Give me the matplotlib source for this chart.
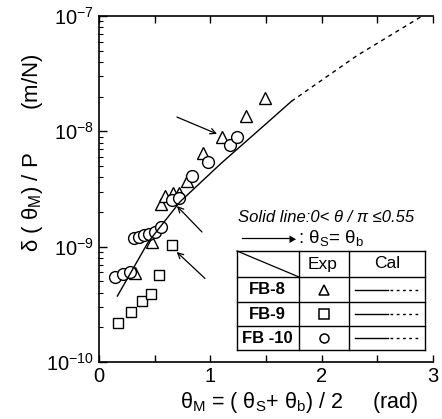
import numpy as np
import matplotlib.pyplot as plt
from matplotlib.lines import Line2D

plt.rcParams['font.family'] = ['Liberation Sans', 'DejaVu Sans']
plt.rcParams['mathtext.fontset'] = 'custom'
plt.rcParams['mathtext.rm'] = 'Liberation Sans'
plt.rcParams['mathtext.it'] = 'Liberation Sans:italic'

# FB-8 (triangles)
x_fb8 = [0.323, 0.473, 0.554, 0.593, 0.668, 0.72, 0.79, 0.932, 1.102, 1.321, 1.491]
y_fb8 = [5.86e-10, 1.09e-9, 2.33e-9, 2.75e-9, 2.90e-9, 2.9e-9, 3.7e-9, 6.44e-9, 8.98e-9, 1.36e-8, 1.93e-8]
# FB-9 (squares)
x_fb9 = [0.168, 0.288, 0.383, 0.467, 0.539, 0.653]
y_fb9 = [2.16e-10, 2.69e-10, 3.37e-10, 3.88e-10, 5.67e-10, 1.03e-9]
# FB-10 (circles)
x_fb10 = [0.144, 0.22, 0.275, 0.315, 0.36, 0.40, 0.445, 0.50, 0.56, 0.653, 0.72, 0.836, 0.98, 1.177, 1.243]
y_fb10 = [5.5e-10, 5.8e-10, 6.0e-10, 1.18e-9, 1.22e-9, 1.26e-9, 1.28e-9, 1.34e-9, 1.49e-9,
          2.54e-9, 2.65e-9, 4.1e-9, 5.45e-9, 7.6e-9, 8.87e-9]

# calculated curve: solid for theta/pi <= 0.55, dashed beyond
x_cal = [0.165, 0.443, 0.728, 1.096, 1.40, 1.728]
y_cal = [3.73e-10, 1.10e-9, 2.45e-9, 5.27e-9, 9.55e-9, 1.82e-8]
x_cal_d = [1.728, 2.315, 2.893]
y_cal_d = [1.82e-8, 4.52e-8, 9.86e-8]

# arrows marking theta_S = theta_b : (tail, tip)
arrows = [((0.70, 1.33e-8), (1.06, 9.5e-9)),
          ((0.925, 1.34e-9), (0.70, 2.25e-9)),
          ((0.952, 5.3e-10), (0.698, 9.0e-10))]

W, H = 442, 419
fig = plt.figure(figsize=(W / 100, H / 100), dpi=100)
ax = fig.add_axes([99 / W, 1 - 362 / H, (433 - 99) / W, (362 - 16) / H])

mk = dict(linestyle='none', markerfacecolor='white', markeredgecolor='black', markeredgewidth=1.0)
ax.plot(x_fb9, y_fb9, marker='s', markersize=7.5, **mk)
ax.plot(x_fb8, y_fb8, marker='^', markersize=8.5, **mk)
ax.plot(x_fb10, y_fb10, marker='o', markersize=8.5, **mk)

ax.plot(x_cal, y_cal, color='black', lw=1.0)
ax.plot(x_cal_d, y_cal_d, color='black', lw=1.0, linestyle=(0, (3, 3)))

for tail, tip in arrows:
    ax.annotate('', xy=tip, xytext=tail,
                arrowprops=dict(arrowstyle='->', color='black', lw=0.9, shrinkA=0, shrinkB=0))

ax.set_yscale('log')
ax.set_xlim(0, 3)
ax.set_ylim(1e-10, 1e-7)
ax.set_xticks([0, 1, 2, 3])
ax.set_xticks([0.5, 1.5, 2.5], minor=True)
ax.tick_params(axis='both', which='both', direction='in', labelsize=14.5)
ax.tick_params(axis='x', which='both', top=True, length=5, width=1)
ax.tick_params(axis='y', which='major', length=6, width=1)
ax.tick_params(axis='y', which='minor', length=3, width=0.8)
ax.spines['right'].set_visible(False)
for s in ['left', 'bottom', 'top']:
    ax.spines[s].set_linewidth(1.2)

fig.text(299 / W, 1 - 402 / H, 'θ$_{\\rm M}$ = ( θ$_{\\rm S}$+ θ$_{\\rm b}$) / 2     (rad)',
         ha='center', va='center', fontsize=15.5)
fig.text(33 / W, 1 - 153 / H, 'δ ( θ$_{\\rm M}$) / P       (m/N)',
         ha='center', va='center', rotation=90, fontsize=16)

# legend block
def fx(px):
    return px / W

def fy(py):
    return 1 - py / H

fig.text(fx(326), fy(217), 'Solid line:0< θ / π ≤0.55', style='italic',
         ha='center', va='center', fontsize=12)
fig.add_artist(Line2D([fx(242), fx(292)], [fy(238.5), fy(238.5)], color='black', lw=0.9))
fig.text(fx(297), fy(238.5), r'$\blacktriangleright$', ha='right', va='center', fontsize=5)
fig.text(fx(298), fy(238), ': θ$_{\\rm S}$= θ$_{\\rm b}$', ha='left', va='center', fontsize=13.5)

L, R, T, B = 237, 425, 251, 350
cols = [299, 349]
rows = [277, 302.5, 326]
box = dict(color='black', lw=1.0)
for xs, ys in [([L, R], [T, T]), ([L, R], [B, B]), ([L, L], [T, B]), ([R, R], [T, B])]:
    fig.add_artist(Line2D([fx(v) for v in xs], [fy(v) for v in ys], **box))
for c in cols:
    fig.add_artist(Line2D([fx(c), fx(c)], [fy(T), fy(B)], **box))
for r in rows:
    fig.add_artist(Line2D([fx(L), fx(R)], [fy(r), fy(r)], **box))
fig.add_artist(Line2D([fx(L), fx(cols[0])], [fy(T), fy(rows[0])], color='black', lw=0.9))

fig.text(fx(323), fy(264), 'Exp', ha='center', va='center', fontsize=12.5)
fig.text(fx(387), fy(264), 'Cal', ha='center', va='center', fontsize=12.5)

names = ['FB-8', 'FB-9', 'FB -10']
marks = ['^', 's', 'o']
centers = [(rows[0] + rows[1]) / 2, (rows[1] + rows[2]) / 2, (rows[2] + B) / 2]
for name, m, cy in zip(names, marks, centers):
    fig.text(fx(267), fy(cy), name, ha='center', va='center', fontsize=12, fontweight='bold')
    fig.add_artist(Line2D([fx(324)], [fy(cy)], marker=m, markersize=6.5, markerfacecolor='white',
                          markeredgecolor='black', markeredgewidth=1.1, linestyle='none'))
    fig.add_artist(Line2D([fx(355), fx(388)], [fy(cy), fy(cy)], color='black', lw=1.0))
    fig.add_artist(Line2D([fx(390), fx(420)], [fy(cy), fy(cy)], color='black', lw=1.0,
                          linestyle=(0, (2, 2.5))))

fig.savefig('out.png', dpi=100)
